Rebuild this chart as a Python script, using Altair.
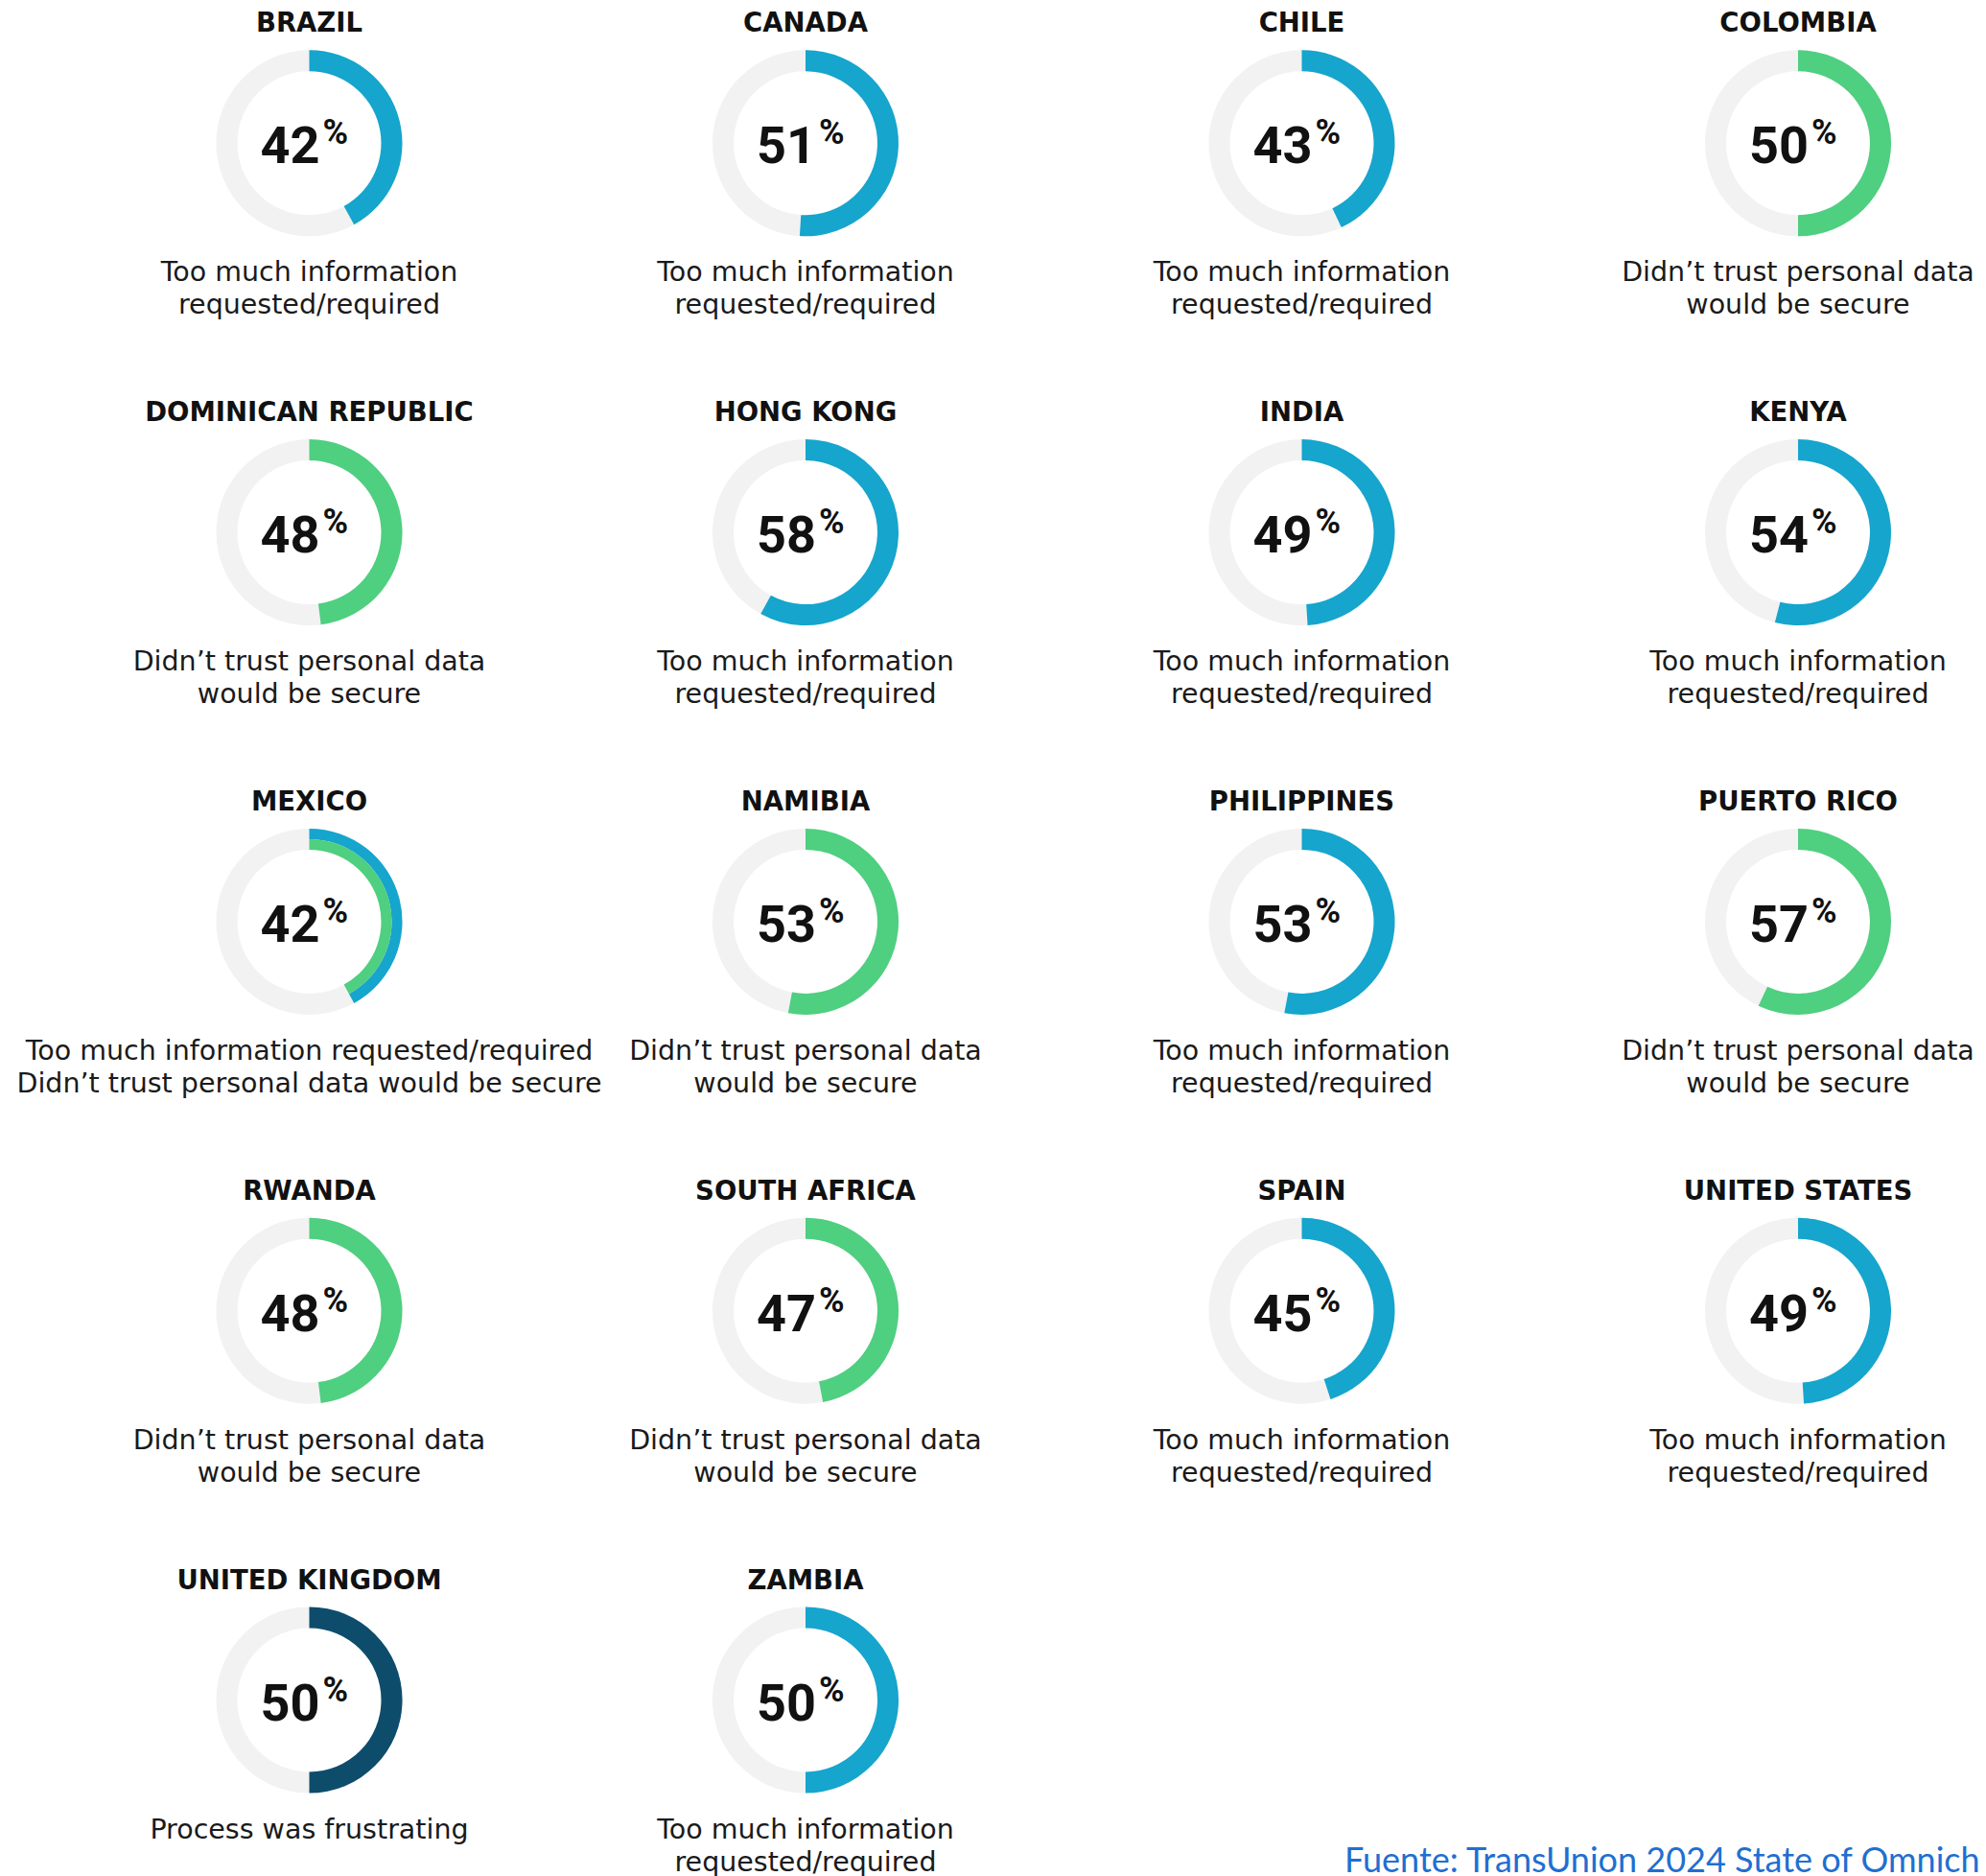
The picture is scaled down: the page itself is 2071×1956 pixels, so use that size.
import altair as alt
import pandas as pd

# ---- data ----
countries = ["BRAZIL", "CANADA", "CHILE", "COLOMBIA",
             "DOMINICAN REPUBLIC", "HONG KONG", "INDIA", "KENYA",
             "MEXICO", "NAMIBIA", "PHILIPPINES", "PUERTO RICO",
             "RWANDA", "SOUTH AFRICA", "SPAIN", "UNITED STATES",
             "UNITED KINGDOM", "ZAMBIA"]
values = [42, 51, 43, 50,
          48, 58, 49, 54,
          42, 53, 53, 57,
          48, 47, 45, 49,
          50, 50]
reasons = ["info", "info", "info", "trust",
           "trust", "info", "info", "info",
           "info+trust", "trust", "info", "trust",
           "trust", "trust", "info", "info",
           "frustrating", "info"]
reason_keys = ["info", "trust", "frustrating"]
reason_colors = ["#15A5CD", "#4FCF80", "#0E4C6C"]
subtitles = {
    "info": "Too much information\nrequested/required",
    "trust": "Didn\u2019t trust personal data\nwould be secure",
    "frustrating": "Process was frustrating",
    "info+trust": "Too much information requested/required\nDidn\u2019t trust personal data would be secure",
}
source_note = "Fuente: TransUnion 2024 State of Omnichannel Fraud Report"

# ---- tables ----
n_cols = 4
df = pd.DataFrame({"country": countries, "value": values, "reason": reasons})
df["col"] = [i % n_cols for i in range(len(df))]
df["row"] = [i // n_cols for i in range(len(df))]
df["zero"] = 0
df["full"] = 100
df["subtitle"] = [subtitles[r] for r in reasons]

arc_rows = []
for _, r in df.iterrows():
    parts = r["reason"].split("+")
    for k, p in enumerate(parts):
        ring = "single" if len(parts) == 1 else ("outer" if k == 0 else "inner")
        arc_rows.append({"country": r["country"], "col": r["col"], "row": r["row"],
                         "zero": 0, "value": r["value"], "series": p, "ring": ring})
arcs = pd.DataFrame(arc_rows)

# ---- scales ----
xs = alt.Scale(domain=[0, 3], range=[314.5, 1867])
ys = alt.Scale(domain=[0, 4], range=[141.3, 1764.5])
ts = alt.Scale(domain=[0, 100], range=[0, 6.283185307179586])
cs = alt.Scale(domain=reason_keys, range=reason_colors)

X = alt.X("col:Q", scale=xs, axis=None)
Y = alt.Y("row:Q", scale=ys, axis=None)

base = alt.Chart(df).encode(x=X, y=Y)
abase = alt.Chart(arcs).encode(
    x=X, y=Y,
    theta=alt.Theta("zero:Q", scale=ts, stack=None),
    theta2="value:Q",
    color=alt.Color("series:N", scale=cs, legend=None),
)

track = base.mark_arc(radius=97, radius2=75, color="#F2F2F2").encode(
    theta=alt.Theta("zero:Q", scale=ts, stack=None), theta2="full:Q")

single = abase.mark_arc(radius=97, radius2=75).transform_filter("datum.ring == 'single'")
outer = abase.mark_arc(radius=97, radius2=86).transform_filter("datum.ring == 'outer'")
inner = abase.mark_arc(radius=86, radius2=75).transform_filter("datum.ring == 'inner'")

title = base.mark_text(dy=-116, baseline="alphabetic", fontSize=27.5, fontWeight="bold",
                       font="DejaVu Sans", color="#111111").encode(text="country:N")
number = base.mark_text(align="right", dx=11, dy=21, baseline="alphabetic", fontSize=54,
                        fontWeight="bold", font="Roboto", color="#111111").encode(text="value:Q")
pct = base.mark_text(align="left", dx=14, dy=1, baseline="alphabetic", fontSize=36,
                     fontWeight="bold", font="Roboto", color="#111111").encode(text=alt.value("%"))
sub = base.mark_text(dy=144, baseline="alphabetic", lineBreak="\n", lineHeight=34,
                     fontSize=28.5, font="DejaVu Sans", color="#1a1a1a").encode(text="subtitle:N")

note = alt.Chart(pd.DataFrame({"t": [source_note]})).mark_text(
    align="left", baseline="alphabetic", fontSize=36, font="Lato", color="#1F6FD1"
).encode(x=alt.value(1394), y=alt.value(1944), text="t:N")

chart = alt.layer(track, single, outer, inner, title, number, pct, sub, note).properties(
    width=2055, height=1948, autosize=alt.AutoSizeParams(type="none"), padding=0,
    background="white",
).configure_view(stroke=None)

chart.save("out.html", embed_options={"renderer": "svg", "actions": False})
